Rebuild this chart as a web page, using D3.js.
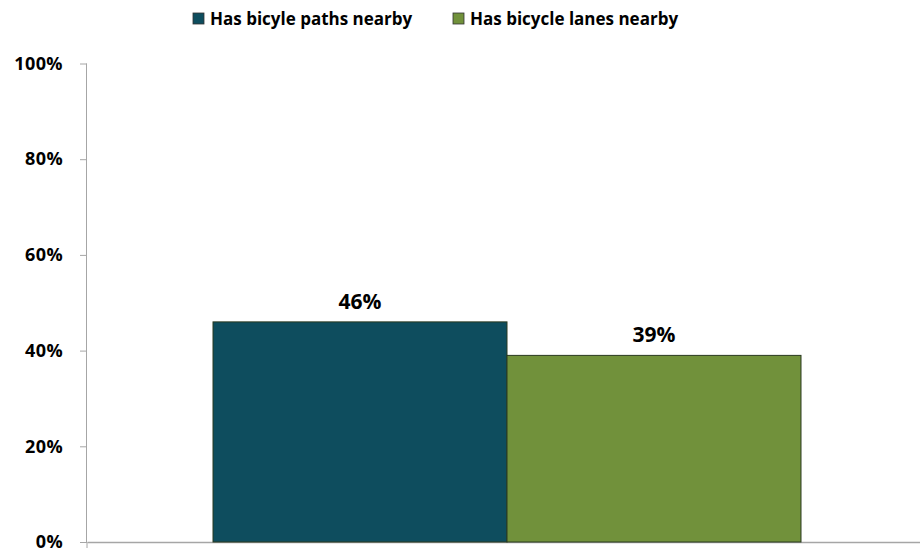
<!DOCTYPE html>
<html><head><meta charset="utf-8">
<script src="https://cdn.jsdelivr.net/npm/d3@7"></script>
<style>body{margin:0;background:#fff}svg{display:block}</style>
</head><body>
<svg id="c" width="920" height="552"></svg>
<script>
const categories = [""];
const seriesNames = ["Has bicyle paths nearby", "Has bicycle lanes nearby"];
const seriesValues = [46, 39];
const yTicks = [0, 20, 40, 60, 80, 100];
const colors = ["#0e4d5e", "#71913b"];

(function () {
const svg = d3.select("#c");
const font = "'Open Sans', sans-serif";
const mLeft = 87, mRight = 927, mTop = 63.5, mBottom = 542;

const y = d3.scaleLinear().domain([0, 100]).range([mBottom, mTop]);
const x0 = d3.scaleBand().domain(categories).range([mLeft, mRight]).paddingInner(0).paddingOuter(0.2143);
const x1 = d3.scaleBand().domain(seriesNames).range([0, x0.bandwidth()]);

// y axis
const ya = svg.append("g").attr("transform", `translate(${mLeft},0)`)
  .call(d3.axisLeft(y).tickValues(yTicks).tickSize(7).tickFormat(d => d + "%"));
ya.select(".domain").attr("stroke", "#a6a6a6").attr("d", `M-0.5,${mTop}V${mBottom}`);
ya.selectAll(".tick line").attr("stroke", "#a6a6a6");
ya.selectAll(".tick text").attr("x", -24).attr("font-family", font).attr("font-weight", "bold")
  .attr("font-size", 18).attr("letter-spacing", 0.4).attr("fill", "#000");

// x axis
const xa = svg.append("g").attr("transform", `translate(0,${mBottom})`)
  .call(d3.axisBottom(x0).tickSize(0).tickFormat(""));
xa.select(".domain").attr("stroke", "#a6a6a6").attr("stroke-width", 1.5);
svg.append("line").attr("x1", mLeft).attr("x2", mLeft).attr("y1", mBottom).attr("y2", mBottom + 6)
  .attr("stroke", "#a6a6a6");

// bars
const g = svg.append("g");
categories.forEach(cat => {
  seriesNames.forEach((s, i) => {
    const v = seriesValues[i];
    const bx = x0(cat) + x1(s);
    g.append("rect").attr("x", bx).attr("y", y(v)).attr("width", x1.bandwidth())
      .attr("height", y(0) - y(v)).attr("fill", colors[i]).attr("stroke", "#2a3a20").attr("stroke-width", 1);
    g.append("text").attr("x", bx + x1.bandwidth() / 2).attr("y", y(v) - 13)
      .attr("text-anchor", "middle").attr("font-family", font).attr("font-weight", "bold")
      .attr("font-size", 21).attr("fill", "#000").text(v + "%");
  });
});

// legend
const legX = [193, 453];
seriesNames.forEach((s, i) => {
  const lg = svg.append("g").attr("transform", `translate(${legX[i]},0)`);
  lg.append("rect").attr("x", 0).attr("y", 13).attr("width", 11).attr("height", 11)
    .attr("fill", colors[i]).attr("stroke", "#333").attr("stroke-width", 0.8);
  lg.append("text").attr("x", 17).attr("y", 25).attr("font-family", font).attr("font-weight", "bold")
    .attr("font-size", 17).attr("fill", "#000").text(s);
});
})();
</script>
</body></html>
